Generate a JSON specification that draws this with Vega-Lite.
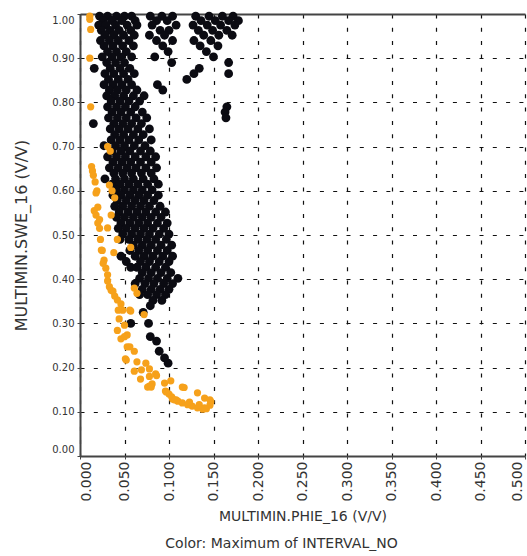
{
  "$schema": "https://vega.github.io/schema/vega-lite/v6.json",
  "width": 445,
  "height": 442,
  "autosize": {"type": "none"},
  "padding": {"left": 80, "top": 14, "right": 2, "bottom": 100},
  "background": "white",
  "config": {
    "view": {"stroke": null},
    "axis": {
      "domainColor": "#444", "domainWidth": 2,
      "tickColor": "#444", "tickSize": 3,
      "gridColor": "#111", "gridDash": [4, 9.3], "gridWidth": 1.2, "gridOpacity": 1,
      "labelFont": "DejaVu Sans", "labelColor": "#333",
      "titleFont": "DejaVu Sans", "titleColor": "#333", "titleFontWeight": "normal"
    }
  },
  "title": {"text": "Color: Maximum of INTERVAL_NO", "orient": "bottom", "frame": "group", "anchor": "middle", "dx": -21, "offset": 14, "font": "DejaVu Sans", "fontSize": 14, "fontWeight": "normal", "color": "#333"},
  "data": {"values": [
{"PHIE":0.022,"SWE":0.995,"INTERVAL_NO":1},{"PHIE":0.031,"SWE":0.995,"INTERVAL_NO":1},{"PHIE":0.041,"SWE":0.995,"INTERVAL_NO":1},{"PHIE":0.05,"SWE":0.995,"INTERVAL_NO":1},{"PHIE":0.058,"SWE":0.995,"INTERVAL_NO":1},{"PHIE":0.079,"SWE":0.995,"INTERVAL_NO":1},{"PHIE":0.092,"SWE":0.995,"INTERVAL_NO":1},{"PHIE":0.104,"SWE":0.995,"INTERVAL_NO":1},{"PHIE":0.13,"SWE":0.995,"INTERVAL_NO":1},{"PHIE":0.145,"SWE":0.995,"INTERVAL_NO":1},{"PHIE":0.16,"SWE":0.995,"INTERVAL_NO":1},{"PHIE":0.172,"SWE":0.995,"INTERVAL_NO":1},
{"PHIE":0.026,"SWE":0.985,"INTERVAL_NO":1},{"PHIE":0.036,"SWE":0.985,"INTERVAL_NO":1},{"PHIE":0.047,"SWE":0.985,"INTERVAL_NO":1},{"PHIE":0.062,"SWE":0.985,"INTERVAL_NO":1},{"PHIE":0.086,"SWE":0.985,"INTERVAL_NO":1},{"PHIE":0.098,"SWE":0.985,"INTERVAL_NO":1},{"PHIE":0.136,"SWE":0.985,"INTERVAL_NO":1},{"PHIE":0.152,"SWE":0.985,"INTERVAL_NO":1},{"PHIE":0.167,"SWE":0.985,"INTERVAL_NO":1},{"PHIE":0.178,"SWE":0.985,"INTERVAL_NO":1},
{"PHIE":0.021,"SWE":0.975,"INTERVAL_NO":1},{"PHIE":0.029,"SWE":0.975,"INTERVAL_NO":1},{"PHIE":0.04,"SWE":0.975,"INTERVAL_NO":1},{"PHIE":0.053,"SWE":0.975,"INTERVAL_NO":1},{"PHIE":0.064,"SWE":0.975,"INTERVAL_NO":1},{"PHIE":0.081,"SWE":0.975,"INTERVAL_NO":1},{"PHIE":0.108,"SWE":0.975,"INTERVAL_NO":1},{"PHIE":0.127,"SWE":0.975,"INTERVAL_NO":1},{"PHIE":0.143,"SWE":0.975,"INTERVAL_NO":1},{"PHIE":0.158,"SWE":0.975,"INTERVAL_NO":1},{"PHIE":0.174,"SWE":0.975,"INTERVAL_NO":1},
{"PHIE":0.024,"SWE":0.963,"INTERVAL_NO":1},{"PHIE":0.034,"SWE":0.963,"INTERVAL_NO":1},{"PHIE":0.044,"SWE":0.963,"INTERVAL_NO":1},{"PHIE":0.057,"SWE":0.963,"INTERVAL_NO":1},{"PHIE":0.09,"SWE":0.963,"INTERVAL_NO":1},{"PHIE":0.1,"SWE":0.963,"INTERVAL_NO":1},{"PHIE":0.133,"SWE":0.963,"INTERVAL_NO":1},{"PHIE":0.149,"SWE":0.963,"INTERVAL_NO":1},{"PHIE":0.165,"SWE":0.963,"INTERVAL_NO":1},
{"PHIE":0.028,"SWE":0.952,"INTERVAL_NO":1},{"PHIE":0.038,"SWE":0.952,"INTERVAL_NO":1},{"PHIE":0.049,"SWE":0.952,"INTERVAL_NO":1},{"PHIE":0.061,"SWE":0.952,"INTERVAL_NO":1},{"PHIE":0.078,"SWE":0.952,"INTERVAL_NO":1},{"PHIE":0.095,"SWE":0.952,"INTERVAL_NO":1},{"PHIE":0.139,"SWE":0.952,"INTERVAL_NO":1},{"PHIE":0.156,"SWE":0.952,"INTERVAL_NO":1},{"PHIE":0.171,"SWE":0.952,"INTERVAL_NO":1},
{"PHIE":0.023,"SWE":0.94,"INTERVAL_NO":1},{"PHIE":0.033,"SWE":0.94,"INTERVAL_NO":1},{"PHIE":0.043,"SWE":0.94,"INTERVAL_NO":1},{"PHIE":0.055,"SWE":0.94,"INTERVAL_NO":1},{"PHIE":0.086,"SWE":0.94,"INTERVAL_NO":1},{"PHIE":0.104,"SWE":0.94,"INTERVAL_NO":1},{"PHIE":0.128,"SWE":0.94,"INTERVAL_NO":1},{"PHIE":0.147,"SWE":0.94,"INTERVAL_NO":1},
{"PHIE":0.027,"SWE":0.928,"INTERVAL_NO":1},{"PHIE":0.037,"SWE":0.928,"INTERVAL_NO":1},{"PHIE":0.048,"SWE":0.928,"INTERVAL_NO":1},{"PHIE":0.06,"SWE":0.928,"INTERVAL_NO":1},{"PHIE":0.093,"SWE":0.928,"INTERVAL_NO":1},{"PHIE":0.135,"SWE":0.928,"INTERVAL_NO":1},{"PHIE":0.155,"SWE":0.928,"INTERVAL_NO":1},
{"PHIE":0.031,"SWE":0.915,"INTERVAL_NO":1},{"PHIE":0.041,"SWE":0.915,"INTERVAL_NO":1},{"PHIE":0.052,"SWE":0.915,"INTERVAL_NO":1},{"PHIE":0.099,"SWE":0.915,"INTERVAL_NO":1},{"PHIE":0.142,"SWE":0.915,"INTERVAL_NO":1},
{"PHIE":0.025,"SWE":0.903,"INTERVAL_NO":1},{"PHIE":0.036,"SWE":0.903,"INTERVAL_NO":1},{"PHIE":0.046,"SWE":0.903,"INTERVAL_NO":1},{"PHIE":0.058,"SWE":0.903,"INTERVAL_NO":1},{"PHIE":0.084,"SWE":0.903,"INTERVAL_NO":1},{"PHIE":0.15,"SWE":0.903,"INTERVAL_NO":1},
{"PHIE":0.03,"SWE":0.89,"INTERVAL_NO":1},{"PHIE":0.04,"SWE":0.89,"INTERVAL_NO":1},{"PHIE":0.05,"SWE":0.89,"INTERVAL_NO":1},{"PHIE":0.103,"SWE":0.89,"INTERVAL_NO":1},{"PHIE":0.167,"SWE":0.89,"INTERVAL_NO":1},
{"PHIE":0.016,"SWE":0.877,"INTERVAL_NO":1},{"PHIE":0.034,"SWE":0.877,"INTERVAL_NO":1},{"PHIE":0.045,"SWE":0.877,"INTERVAL_NO":1},{"PHIE":0.056,"SWE":0.877,"INTERVAL_NO":1},{"PHIE":0.134,"SWE":0.877,"INTERVAL_NO":1},
{"PHIE":0.028,"SWE":0.865,"INTERVAL_NO":1},{"PHIE":0.038,"SWE":0.865,"INTERVAL_NO":1},{"PHIE":0.049,"SWE":0.865,"INTERVAL_NO":1},{"PHIE":0.061,"SWE":0.865,"INTERVAL_NO":1},{"PHIE":0.128,"SWE":0.865,"INTERVAL_NO":1},{"PHIE":0.167,"SWE":0.865,"INTERVAL_NO":1},
{"PHIE":0.032,"SWE":0.852,"INTERVAL_NO":1},{"PHIE":0.043,"SWE":0.852,"INTERVAL_NO":1},{"PHIE":0.054,"SWE":0.852,"INTERVAL_NO":1},{"PHIE":0.12,"SWE":0.852,"INTERVAL_NO":1},
{"PHIE":0.027,"SWE":0.84,"INTERVAL_NO":1},{"PHIE":0.037,"SWE":0.84,"INTERVAL_NO":1},{"PHIE":0.047,"SWE":0.84,"INTERVAL_NO":1},{"PHIE":0.058,"SWE":0.84,"INTERVAL_NO":1},{"PHIE":0.087,"SWE":0.84,"INTERVAL_NO":1},
{"PHIE":0.033,"SWE":0.828,"INTERVAL_NO":1},{"PHIE":0.042,"SWE":0.828,"INTERVAL_NO":1},{"PHIE":0.052,"SWE":0.828,"INTERVAL_NO":1},{"PHIE":0.064,"SWE":0.828,"INTERVAL_NO":1},{"PHIE":0.093,"SWE":0.828,"INTERVAL_NO":1},
{"PHIE":0.03,"SWE":0.815,"INTERVAL_NO":1},{"PHIE":0.039,"SWE":0.815,"INTERVAL_NO":1},{"PHIE":0.049,"SWE":0.815,"INTERVAL_NO":1},{"PHIE":0.06,"SWE":0.815,"INTERVAL_NO":1},{"PHIE":0.072,"SWE":0.815,"INTERVAL_NO":1},
{"PHIE":0.035,"SWE":0.803,"INTERVAL_NO":1},{"PHIE":0.045,"SWE":0.803,"INTERVAL_NO":1},{"PHIE":0.055,"SWE":0.803,"INTERVAL_NO":1},{"PHIE":0.067,"SWE":0.803,"INTERVAL_NO":1},
{"PHIE":0.031,"SWE":0.79,"INTERVAL_NO":1},{"PHIE":0.041,"SWE":0.79,"INTERVAL_NO":1},{"PHIE":0.051,"SWE":0.79,"INTERVAL_NO":1},{"PHIE":0.062,"SWE":0.79,"INTERVAL_NO":1},{"PHIE":0.165,"SWE":0.79,"INTERVAL_NO":1},
{"PHIE":0.036,"SWE":0.778,"INTERVAL_NO":1},{"PHIE":0.046,"SWE":0.778,"INTERVAL_NO":1},{"PHIE":0.057,"SWE":0.778,"INTERVAL_NO":1},{"PHIE":0.07,"SWE":0.778,"INTERVAL_NO":1},{"PHIE":0.163,"SWE":0.778,"INTERVAL_NO":1},
{"PHIE":0.032,"SWE":0.765,"INTERVAL_NO":1},{"PHIE":0.042,"SWE":0.765,"INTERVAL_NO":1},{"PHIE":0.052,"SWE":0.765,"INTERVAL_NO":1},{"PHIE":0.063,"SWE":0.765,"INTERVAL_NO":1},{"PHIE":0.075,"SWE":0.765,"INTERVAL_NO":1},{"PHIE":0.164,"SWE":0.765,"INTERVAL_NO":1},
{"PHIE":0.015,"SWE":0.752,"INTERVAL_NO":1},{"PHIE":0.038,"SWE":0.752,"INTERVAL_NO":1},{"PHIE":0.048,"SWE":0.752,"INTERVAL_NO":1},{"PHIE":0.058,"SWE":0.752,"INTERVAL_NO":1},{"PHIE":0.069,"SWE":0.752,"INTERVAL_NO":1},
{"PHIE":0.034,"SWE":0.74,"INTERVAL_NO":1},{"PHIE":0.044,"SWE":0.74,"INTERVAL_NO":1},{"PHIE":0.054,"SWE":0.74,"INTERVAL_NO":1},{"PHIE":0.065,"SWE":0.74,"INTERVAL_NO":1},{"PHIE":0.078,"SWE":0.74,"INTERVAL_NO":1},
{"PHIE":0.039,"SWE":0.727,"INTERVAL_NO":1},{"PHIE":0.049,"SWE":0.727,"INTERVAL_NO":1},{"PHIE":0.06,"SWE":0.727,"INTERVAL_NO":1},{"PHIE":0.071,"SWE":0.727,"INTERVAL_NO":1},
{"PHIE":0.035,"SWE":0.715,"INTERVAL_NO":1},{"PHIE":0.045,"SWE":0.715,"INTERVAL_NO":1},{"PHIE":0.055,"SWE":0.715,"INTERVAL_NO":1},{"PHIE":0.066,"SWE":0.715,"INTERVAL_NO":1},{"PHIE":0.08,"SWE":0.715,"INTERVAL_NO":1},
{"PHIE":0.027,"SWE":0.702,"INTERVAL_NO":1},{"PHIE":0.04,"SWE":0.702,"INTERVAL_NO":1},{"PHIE":0.05,"SWE":0.702,"INTERVAL_NO":1},{"PHIE":0.061,"SWE":0.702,"INTERVAL_NO":1},{"PHIE":0.073,"SWE":0.702,"INTERVAL_NO":1},
{"PHIE":0.036,"SWE":0.69,"INTERVAL_NO":1},{"PHIE":0.046,"SWE":0.69,"INTERVAL_NO":1},{"PHIE":0.056,"SWE":0.69,"INTERVAL_NO":1},{"PHIE":0.068,"SWE":0.69,"INTERVAL_NO":1},{"PHIE":0.079,"SWE":0.69,"INTERVAL_NO":1},
{"PHIE":0.031,"SWE":0.677,"INTERVAL_NO":1},{"PHIE":0.041,"SWE":0.677,"INTERVAL_NO":1},{"PHIE":0.051,"SWE":0.677,"INTERVAL_NO":1},{"PHIE":0.062,"SWE":0.677,"INTERVAL_NO":1},{"PHIE":0.074,"SWE":0.677,"INTERVAL_NO":1},{"PHIE":0.085,"SWE":0.677,"INTERVAL_NO":1},
{"PHIE":0.037,"SWE":0.665,"INTERVAL_NO":1},{"PHIE":0.047,"SWE":0.665,"INTERVAL_NO":1},{"PHIE":0.057,"SWE":0.665,"INTERVAL_NO":1},{"PHIE":0.068,"SWE":0.665,"INTERVAL_NO":1},{"PHIE":0.08,"SWE":0.665,"INTERVAL_NO":1},
{"PHIE":0.033,"SWE":0.652,"INTERVAL_NO":1},{"PHIE":0.043,"SWE":0.652,"INTERVAL_NO":1},{"PHIE":0.053,"SWE":0.652,"INTERVAL_NO":1},{"PHIE":0.063,"SWE":0.652,"INTERVAL_NO":1},{"PHIE":0.074,"SWE":0.652,"INTERVAL_NO":1},{"PHIE":0.086,"SWE":0.652,"INTERVAL_NO":1},
{"PHIE":0.038,"SWE":0.64,"INTERVAL_NO":1},{"PHIE":0.048,"SWE":0.64,"INTERVAL_NO":1},{"PHIE":0.058,"SWE":0.64,"INTERVAL_NO":1},{"PHIE":0.069,"SWE":0.64,"INTERVAL_NO":1},{"PHIE":0.08,"SWE":0.64,"INTERVAL_NO":1},
{"PHIE":0.028,"SWE":0.627,"INTERVAL_NO":1},{"PHIE":0.04,"SWE":0.627,"INTERVAL_NO":1},{"PHIE":0.05,"SWE":0.627,"INTERVAL_NO":1},{"PHIE":0.06,"SWE":0.627,"INTERVAL_NO":1},{"PHIE":0.071,"SWE":0.627,"INTERVAL_NO":1},{"PHIE":0.083,"SWE":0.627,"INTERVAL_NO":1},
{"PHIE":0.036,"SWE":0.615,"INTERVAL_NO":1},{"PHIE":0.045,"SWE":0.615,"INTERVAL_NO":1},{"PHIE":0.055,"SWE":0.615,"INTERVAL_NO":1},{"PHIE":0.065,"SWE":0.615,"INTERVAL_NO":1},{"PHIE":0.076,"SWE":0.615,"INTERVAL_NO":1},{"PHIE":0.088,"SWE":0.615,"INTERVAL_NO":1},
{"PHIE":0.041,"SWE":0.602,"INTERVAL_NO":1},{"PHIE":0.05,"SWE":0.602,"INTERVAL_NO":1},{"PHIE":0.06,"SWE":0.602,"INTERVAL_NO":1},{"PHIE":0.07,"SWE":0.602,"INTERVAL_NO":1},{"PHIE":0.081,"SWE":0.602,"INTERVAL_NO":1},
{"PHIE":0.037,"SWE":0.59,"INTERVAL_NO":1},{"PHIE":0.046,"SWE":0.59,"INTERVAL_NO":1},{"PHIE":0.056,"SWE":0.59,"INTERVAL_NO":1},{"PHIE":0.066,"SWE":0.59,"INTERVAL_NO":1},{"PHIE":0.076,"SWE":0.59,"INTERVAL_NO":1},{"PHIE":0.088,"SWE":0.59,"INTERVAL_NO":1},
{"PHIE":0.042,"SWE":0.578,"INTERVAL_NO":1},{"PHIE":0.052,"SWE":0.578,"INTERVAL_NO":1},{"PHIE":0.062,"SWE":0.578,"INTERVAL_NO":1},{"PHIE":0.072,"SWE":0.578,"INTERVAL_NO":1},{"PHIE":0.083,"SWE":0.578,"INTERVAL_NO":1},
{"PHIE":0.039,"SWE":0.565,"INTERVAL_NO":1},{"PHIE":0.048,"SWE":0.565,"INTERVAL_NO":1},{"PHIE":0.058,"SWE":0.565,"INTERVAL_NO":1},{"PHIE":0.068,"SWE":0.565,"INTERVAL_NO":1},{"PHIE":0.078,"SWE":0.565,"INTERVAL_NO":1},{"PHIE":0.09,"SWE":0.565,"INTERVAL_NO":1},
{"PHIE":0.044,"SWE":0.552,"INTERVAL_NO":1},{"PHIE":0.054,"SWE":0.552,"INTERVAL_NO":1},{"PHIE":0.064,"SWE":0.552,"INTERVAL_NO":1},{"PHIE":0.074,"SWE":0.552,"INTERVAL_NO":1},{"PHIE":0.085,"SWE":0.552,"INTERVAL_NO":1},{"PHIE":0.096,"SWE":0.552,"INTERVAL_NO":1},
{"PHIE":0.041,"SWE":0.54,"INTERVAL_NO":1},{"PHIE":0.05,"SWE":0.54,"INTERVAL_NO":1},{"PHIE":0.06,"SWE":0.54,"INTERVAL_NO":1},{"PHIE":0.07,"SWE":0.54,"INTERVAL_NO":1},{"PHIE":0.08,"SWE":0.54,"INTERVAL_NO":1},{"PHIE":0.091,"SWE":0.54,"INTERVAL_NO":1},
{"PHIE":0.046,"SWE":0.527,"INTERVAL_NO":1},{"PHIE":0.056,"SWE":0.527,"INTERVAL_NO":1},{"PHIE":0.066,"SWE":0.527,"INTERVAL_NO":1},{"PHIE":0.076,"SWE":0.527,"INTERVAL_NO":1},{"PHIE":0.087,"SWE":0.527,"INTERVAL_NO":1},{"PHIE":0.098,"SWE":0.527,"INTERVAL_NO":1},
{"PHIE":0.043,"SWE":0.515,"INTERVAL_NO":1},{"PHIE":0.052,"SWE":0.515,"INTERVAL_NO":1},{"PHIE":0.062,"SWE":0.515,"INTERVAL_NO":1},{"PHIE":0.072,"SWE":0.515,"INTERVAL_NO":1},{"PHIE":0.082,"SWE":0.515,"INTERVAL_NO":1},{"PHIE":0.094,"SWE":0.515,"INTERVAL_NO":1},
{"PHIE":0.048,"SWE":0.502,"INTERVAL_NO":1},{"PHIE":0.058,"SWE":0.502,"INTERVAL_NO":1},{"PHIE":0.068,"SWE":0.502,"INTERVAL_NO":1},{"PHIE":0.078,"SWE":0.502,"INTERVAL_NO":1},{"PHIE":0.089,"SWE":0.502,"INTERVAL_NO":1},{"PHIE":0.1,"SWE":0.502,"INTERVAL_NO":1},
{"PHIE":0.045,"SWE":0.49,"INTERVAL_NO":1},{"PHIE":0.055,"SWE":0.49,"INTERVAL_NO":1},{"PHIE":0.065,"SWE":0.49,"INTERVAL_NO":1},{"PHIE":0.075,"SWE":0.49,"INTERVAL_NO":1},{"PHIE":0.085,"SWE":0.49,"INTERVAL_NO":1},{"PHIE":0.097,"SWE":0.49,"INTERVAL_NO":1},
{"PHIE":0.06,"SWE":0.477,"INTERVAL_NO":1},{"PHIE":0.07,"SWE":0.477,"INTERVAL_NO":1},{"PHIE":0.08,"SWE":0.477,"INTERVAL_NO":1},{"PHIE":0.091,"SWE":0.477,"INTERVAL_NO":1},{"PHIE":0.103,"SWE":0.477,"INTERVAL_NO":1},
{"PHIE":0.056,"SWE":0.465,"INTERVAL_NO":1},{"PHIE":0.066,"SWE":0.465,"INTERVAL_NO":1},{"PHIE":0.076,"SWE":0.465,"INTERVAL_NO":1},{"PHIE":0.087,"SWE":0.465,"INTERVAL_NO":1},{"PHIE":0.098,"SWE":0.465,"INTERVAL_NO":1},
{"PHIE":0.046,"SWE":0.452,"INTERVAL_NO":1},{"PHIE":0.062,"SWE":0.452,"INTERVAL_NO":1},{"PHIE":0.072,"SWE":0.452,"INTERVAL_NO":1},{"PHIE":0.082,"SWE":0.452,"INTERVAL_NO":1},{"PHIE":0.093,"SWE":0.452,"INTERVAL_NO":1},{"PHIE":0.104,"SWE":0.452,"INTERVAL_NO":1},
{"PHIE":0.052,"SWE":0.44,"INTERVAL_NO":1},{"PHIE":0.068,"SWE":0.44,"INTERVAL_NO":1},{"PHIE":0.078,"SWE":0.44,"INTERVAL_NO":1},{"PHIE":0.089,"SWE":0.44,"INTERVAL_NO":1},{"PHIE":0.1,"SWE":0.44,"INTERVAL_NO":1},
{"PHIE":0.057,"SWE":0.427,"INTERVAL_NO":1},{"PHIE":0.064,"SWE":0.427,"INTERVAL_NO":1},{"PHIE":0.074,"SWE":0.427,"INTERVAL_NO":1},{"PHIE":0.085,"SWE":0.427,"INTERVAL_NO":1},{"PHIE":0.096,"SWE":0.427,"INTERVAL_NO":1},
{"PHIE":0.07,"SWE":0.415,"INTERVAL_NO":1},{"PHIE":0.08,"SWE":0.415,"INTERVAL_NO":1},{"PHIE":0.091,"SWE":0.415,"INTERVAL_NO":1},{"PHIE":0.102,"SWE":0.415,"INTERVAL_NO":1},
{"PHIE":0.067,"SWE":0.402,"INTERVAL_NO":1},{"PHIE":0.077,"SWE":0.402,"INTERVAL_NO":1},{"PHIE":0.087,"SWE":0.402,"INTERVAL_NO":1},{"PHIE":0.098,"SWE":0.402,"INTERVAL_NO":1},{"PHIE":0.11,"SWE":0.402,"INTERVAL_NO":1},
{"PHIE":0.062,"SWE":0.39,"INTERVAL_NO":1},{"PHIE":0.073,"SWE":0.39,"INTERVAL_NO":1},{"PHIE":0.083,"SWE":0.39,"INTERVAL_NO":1},{"PHIE":0.094,"SWE":0.39,"INTERVAL_NO":1},{"PHIE":0.104,"SWE":0.39,"INTERVAL_NO":1},
{"PHIE":0.07,"SWE":0.377,"INTERVAL_NO":1},{"PHIE":0.08,"SWE":0.377,"INTERVAL_NO":1},{"PHIE":0.09,"SWE":0.377,"INTERVAL_NO":1},{"PHIE":0.1,"SWE":0.377,"INTERVAL_NO":1},
{"PHIE":0.067,"SWE":0.365,"INTERVAL_NO":1},{"PHIE":0.076,"SWE":0.365,"INTERVAL_NO":1},{"PHIE":0.086,"SWE":0.365,"INTERVAL_NO":1},{"PHIE":0.096,"SWE":0.365,"INTERVAL_NO":1},
{"PHIE":0.082,"SWE":0.352,"INTERVAL_NO":1},{"PHIE":0.092,"SWE":0.352,"INTERVAL_NO":1},{"PHIE":0.079,"SWE":0.34,"INTERVAL_NO":1},
{"PHIE":0.071,"SWE":0.325,"INTERVAL_NO":1},{"PHIE":0.057,"SWE":0.3,"INTERVAL_NO":1},{"PHIE":0.077,"SWE":0.3,"INTERVAL_NO":1},{"PHIE":0.079,"SWE":0.27,"INTERVAL_NO":1},{"PHIE":0.086,"SWE":0.26,"INTERVAL_NO":1},{"PHIE":0.089,"SWE":0.237,"INTERVAL_NO":1},{"PHIE":0.095,"SWE":0.222,"INTERVAL_NO":1},{"PHIE":0.099,"SWE":0.21,"INTERVAL_NO":1},
{"PHIE":0.011,"SWE":0.995,"INTERVAL_NO":2},{"PHIE":0.011,"SWE":0.988,"INTERVAL_NO":2},{"PHIE":0.012,"SWE":0.965,"INTERVAL_NO":2},{"PHIE":0.011,"SWE":0.9,"INTERVAL_NO":2},{"PHIE":0.012,"SWE":0.79,"INTERVAL_NO":2},
{"PHIE":0.031,"SWE":0.7,"INTERVAL_NO":2},{"PHIE":0.034,"SWE":0.69,"INTERVAL_NO":2},{"PHIE":0.013,"SWE":0.655,"INTERVAL_NO":2},{"PHIE":0.014,"SWE":0.645,"INTERVAL_NO":2},{"PHIE":0.015,"SWE":0.635,"INTERVAL_NO":2},{"PHIE":0.017,"SWE":0.62,"INTERVAL_NO":2},{"PHIE":0.019,"SWE":0.6,"INTERVAL_NO":2},{"PHIE":0.033,"SWE":0.613,"INTERVAL_NO":2},{"PHIE":0.036,"SWE":0.6,"INTERVAL_NO":2},{"PHIE":0.039,"SWE":0.584,"INTERVAL_NO":2},{"PHIE":0.02,"SWE":0.563,"INTERVAL_NO":2},{"PHIE":0.016,"SWE":0.555,"INTERVAL_NO":2},{"PHIE":0.018,"SWE":0.545,"INTERVAL_NO":2},{"PHIE":0.035,"SWE":0.545,"INTERVAL_NO":2},{"PHIE":0.02,"SWE":0.527,"INTERVAL_NO":2},{"PHIE":0.022,"SWE":0.515,"INTERVAL_NO":2},{"PHIE":0.031,"SWE":0.516,"INTERVAL_NO":2},{"PHIE":0.023,"SWE":0.49,"INTERVAL_NO":2},{"PHIE":0.042,"SWE":0.49,"INTERVAL_NO":2},{"PHIE":0.025,"SWE":0.465,"INTERVAL_NO":2},{"PHIE":0.038,"SWE":0.46,"INTERVAL_NO":2},{"PHIE":0.057,"SWE":0.472,"INTERVAL_NO":2},{"PHIE":0.027,"SWE":0.443,"INTERVAL_NO":2},{"PHIE":0.029,"SWE":0.425,"INTERVAL_NO":2},{"PHIE":0.031,"SWE":0.41,"INTERVAL_NO":2},{"PHIE":0.031,"SWE":0.396,"INTERVAL_NO":2},{"PHIE":0.033,"SWE":0.383,"INTERVAL_NO":2},{"PHIE":0.037,"SWE":0.373,"INTERVAL_NO":2},{"PHIE":0.039,"SWE":0.362,"INTERVAL_NO":2},{"PHIE":0.042,"SWE":0.353,"INTERVAL_NO":2},{"PHIE":0.046,"SWE":0.344,"INTERVAL_NO":2},{"PHIE":0.048,"SWE":0.33,"INTERVAL_NO":2},{"PHIE":0.057,"SWE":0.328,"INTERVAL_NO":2},{"PHIE":0.044,"SWE":0.31,"INTERVAL_NO":2},{"PHIE":0.05,"SWE":0.296,"INTERVAL_NO":2},{"PHIE":0.042,"SWE":0.284,"INTERVAL_NO":2},{"PHIE":0.053,"SWE":0.274,"INTERVAL_NO":2},{"PHIE":0.061,"SWE":0.38,"INTERVAL_NO":2},{"PHIE":0.064,"SWE":0.368,"INTERVAL_NO":2},{"PHIE":0.072,"SWE":0.32,"INTERVAL_NO":2},
{"PHIE":0.046,"SWE":0.265,"INTERVAL_NO":2},{"PHIE":0.053,"SWE":0.247,"INTERVAL_NO":2},{"PHIE":0.061,"SWE":0.237,"INTERVAL_NO":2},{"PHIE":0.051,"SWE":0.22,"INTERVAL_NO":2},{"PHIE":0.064,"SWE":0.213,"INTERVAL_NO":2},{"PHIE":0.074,"SWE":0.21,"INTERVAL_NO":2},{"PHIE":0.061,"SWE":0.192,"INTERVAL_NO":2},{"PHIE":0.069,"SWE":0.195,"INTERVAL_NO":2},{"PHIE":0.078,"SWE":0.197,"INTERVAL_NO":2},{"PHIE":0.085,"SWE":0.186,"INTERVAL_NO":2},{"PHIE":0.068,"SWE":0.174,"INTERVAL_NO":2},{"PHIE":0.078,"SWE":0.18,"INTERVAL_NO":2},{"PHIE":0.078,"SWE":0.158,"INTERVAL_NO":2},{"PHIE":0.081,"SWE":0.163,"INTERVAL_NO":2},{"PHIE":0.095,"SWE":0.165,"INTERVAL_NO":2},{"PHIE":0.096,"SWE":0.147,"INTERVAL_NO":2},{"PHIE":0.1,"SWE":0.14,"INTERVAL_NO":2},{"PHIE":0.104,"SWE":0.129,"INTERVAL_NO":2},{"PHIE":0.11,"SWE":0.124,"INTERVAL_NO":2},{"PHIE":0.115,"SWE":0.12,"INTERVAL_NO":2},{"PHIE":0.121,"SWE":0.116,"INTERVAL_NO":2},{"PHIE":0.126,"SWE":0.113,"INTERVAL_NO":2},{"PHIE":0.132,"SWE":0.109,"INTERVAL_NO":2},{"PHIE":0.138,"SWE":0.106,"INTERVAL_NO":2},{"PHIE":0.142,"SWE":0.107,"INTERVAL_NO":2},{"PHIE":0.146,"SWE":0.115,"INTERVAL_NO":2},{"PHIE":0.147,"SWE":0.123,"INTERVAL_NO":2},{"PHIE":0.14,"SWE":0.131,"INTERVAL_NO":2},{"PHIE":0.117,"SWE":0.155,"INTERVAL_NO":2},{"PHIE":0.132,"SWE":0.143,"INTERVAL_NO":2},{"PHIE":0.097,"SWE":0.145,"INTERVAL_NO":2},{"PHIE":0.103,"SWE":0.134,"INTERVAL_NO":2},{"PHIE":0.086,"SWE":0.182,"INTERVAL_NO":2},{"PHIE":0.076,"SWE":0.156,"INTERVAL_NO":2},{"PHIE":0.102,"SWE":0.17,"INTERVAL_NO":2},{"PHIE":0.108,"SWE":0.127,"INTERVAL_NO":2},{"PHIE":0.123,"SWE":0.122,"INTERVAL_NO":2},{"PHIE":0.134,"SWE":0.116,"INTERVAL_NO":2},{"PHIE":0.05,"SWE":0.27,"INTERVAL_NO":2},{"PHIE":0.056,"SWE":0.33,"INTERVAL_NO":2},{"PHIE":0.024,"SWE":0.466,"INTERVAL_NO":2},{"PHIE":0.026,"SWE":0.436,"INTERVAL_NO":2},{"PHIE":0.035,"SWE":0.375,"INTERVAL_NO":2},{"PHIE":0.043,"SWE":0.33,"INTERVAL_NO":2},{"PHIE":0.056,"SWE":0.247,"INTERVAL_NO":2},{"PHIE":0.052,"SWE":0.217,"INTERVAL_NO":2},{"PHIE":0.08,"SWE":0.156,"INTERVAL_NO":2},{"PHIE":0.115,"SWE":0.156,"INTERVAL_NO":2},{"PHIE":0.106,"SWE":0.127,"INTERVAL_NO":2},{"PHIE":0.146,"SWE":0.127,"INTERVAL_NO":2},{"PHIE":0.14,"SWE":0.109,"INTERVAL_NO":2},{"PHIE":0.022,"SWE":0.535,"INTERVAL_NO":2},{"PHIE":0.018,"SWE":0.595,"INTERVAL_NO":2}
  ]},
  "layer": [
    {
      "mark": {"type": "point", "shape": "circle", "filled": true, "opacity": 1},
      "encoding": {
        "x": {"field": "PHIE", "type": "quantitative", "scale": {"domain": [0, 0.5], "nice": false},
          "axis": {"title": "MULTIMIN.PHIE_16 (V/V)", "values": [0,0.05,0.1,0.15,0.2,0.25,0.3,0.35,0.4,0.45,0.5], "format": ".3f", "labelAngle": -90, "labelFontSize": 14, "labelPadding": 2,
            "labelOffset": {"condition": [{"test": "datum.value <= 0", "value": 6}, {"test": "datum.value >= 0.5", "value": -8}], "value": 0},
            "titleFontSize": 14, "titlePadding": 8}},
        "y": {"field": "SWE", "type": "quantitative", "scale": {"domain": [0, 1], "nice": false},
          "axis": {"title": "MULTIMIN.SWE_16 (V/V)", "values": [0,0.1,0.2,0.3,0.4,0.5,0.6,0.7,0.8,0.9,1], "format": ".2f", "labelFontSize": 10, "labelPadding": 3,
            "labelOffset": {"condition": [{"test": "datum.value <= 0", "value": -7}, {"test": "datum.value >= 1", "value": 6}], "value": 0},
            "titleFontSize": 16, "titlePadding": 22}},
        "color": {"field": "INTERVAL_NO", "type": "nominal", "scale": {"domain": [1, 2], "range": ["#0b0b12", "#f6a11b"]}, "legend": null},
        "size": {"field": "INTERVAL_NO", "type": "nominal", "scale": {"domain": [1, 2], "range": [78, 52]}, "legend": null}
      }
    },
    {
      "mark": {"type": "point", "opacity": 0},
      "encoding": {
        "x": {"field": "PHIE", "type": "quantitative", "axis": {"orient": "top", "labels": false, "ticks": false, "grid": false, "title": null}},
        "y": {"field": "SWE", "type": "quantitative"}
      }
    }
  ],
  "resolve": {"axis": {"x": "independent"}}
}
